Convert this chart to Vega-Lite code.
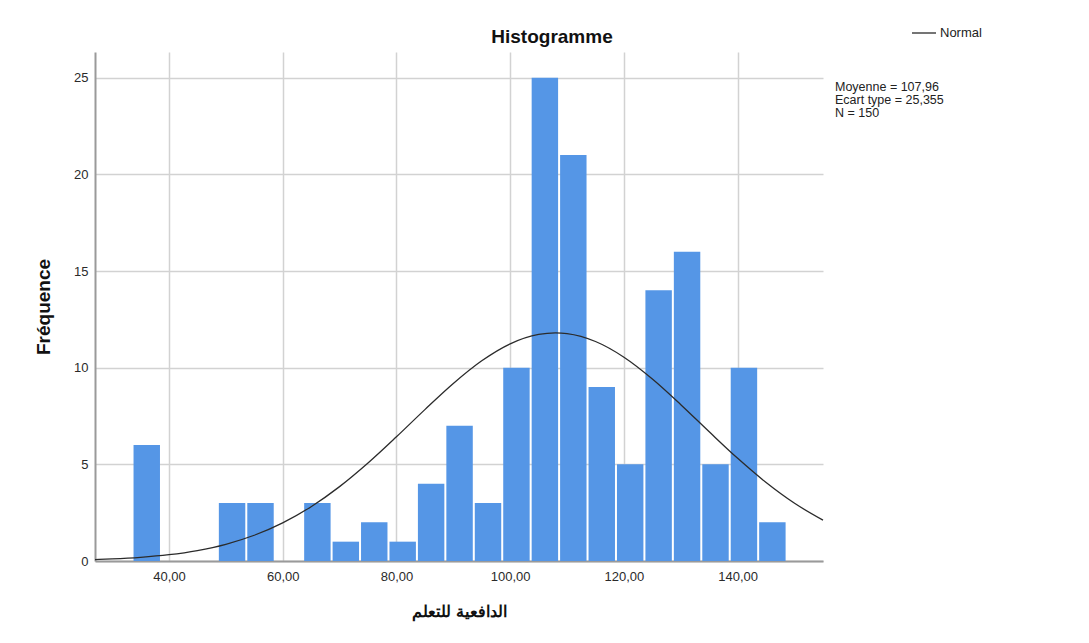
{
  "$schema": "https://vega.github.io/schema/vega-lite/v6.json",
  "width": 728,
  "height": 509,
  "autosize": "none",
  "padding": {"left": 95, "top": 52, "right": 266, "bottom": 82},
  "background": "#ffffff",
  "title": {
    "text": "Histogramme",
    "font": "Liberation Sans",
    "fontSize": 19,
    "fontWeight": "bold",
    "color": "#111111",
    "anchor": "middle",
    "dx": 93,
    "dy": 31,
    "offset": 4
  },
  "datasets": {
    "bins": [
      {"bin_start": 33.6, "bin_end": 38.6, "count": 6},
      {"bin_start": 48.6, "bin_end": 53.6, "count": 3},
      {"bin_start": 53.6, "bin_end": 58.6, "count": 3},
      {"bin_start": 63.6, "bin_end": 68.6, "count": 3},
      {"bin_start": 68.6, "bin_end": 73.6, "count": 1},
      {"bin_start": 73.6, "bin_end": 78.6, "count": 2},
      {"bin_start": 78.6, "bin_end": 83.6, "count": 1},
      {"bin_start": 83.6, "bin_end": 88.6, "count": 4},
      {"bin_start": 88.6, "bin_end": 93.6, "count": 7},
      {"bin_start": 93.6, "bin_end": 98.6, "count": 3},
      {"bin_start": 98.6, "bin_end": 103.6, "count": 10},
      {"bin_start": 103.6, "bin_end": 108.6, "count": 25},
      {"bin_start": 108.6, "bin_end": 113.6, "count": 21},
      {"bin_start": 113.6, "bin_end": 118.6, "count": 9},
      {"bin_start": 118.6, "bin_end": 123.6, "count": 5},
      {"bin_start": 123.6, "bin_end": 128.6, "count": 14},
      {"bin_start": 128.6, "bin_end": 133.6, "count": 16},
      {"bin_start": 133.6, "bin_end": 138.6, "count": 5},
      {"bin_start": 138.6, "bin_end": 143.6, "count": 10},
      {"bin_start": 143.6, "bin_end": 148.6, "count": 2}
    ],
    "normal": [
      {"x": 27, "y": 0.072},
      {"x": 30, "y": 0.105},
      {"x": 35, "y": 0.188},
      {"x": 40, "y": 0.325},
      {"x": 45, "y": 0.541},
      {"x": 50, "y": 0.865},
      {"x": 55, "y": 1.332},
      {"x": 60, "y": 1.973},
      {"x": 65, "y": 2.809},
      {"x": 70, "y": 3.847},
      {"x": 75, "y": 5.069},
      {"x": 80, "y": 6.424},
      {"x": 85, "y": 7.831},
      {"x": 90, "y": 9.182},
      {"x": 95, "y": 10.355},
      {"x": 100, "y": 11.233},
      {"x": 105, "y": 11.720},
      {"x": 107.96, "y": 11.800},
      {"x": 110, "y": 11.762},
      {"x": 115, "y": 11.354},
      {"x": 120, "y": 10.542},
      {"x": 125, "y": 9.414},
      {"x": 130, "y": 8.087},
      {"x": 135, "y": 6.682},
      {"x": 140, "y": 5.310},
      {"x": 145, "y": 4.059},
      {"x": 150, "y": 2.985},
      {"x": 155, "y": 2.111}
    ]
  },
  "layer": [
    {
      "data": {"name": "bins"},
      "mark": {"type": "rect", "color": "#5596e6", "xOffset": 1, "x2Offset": -1},
      "encoding": {
        "x": {
          "field": "bin_start",
          "type": "quantitative",
          "scale": {"domain": [27, 155], "nice": false, "zero": false},
          "axis": {
            "title": "الدافعية للتعلم",
            "values": [40, 60, 80, 100, 120, 140],
            "labelExpr": "replace(format(datum.value, '.2f'), '.', ',')"
          }
        },
        "x2": {"field": "bin_end"},
        "y": {
          "field": "count",
          "type": "quantitative",
          "scale": {"domain": [0, 26.33], "nice": false},
          "axis": {"title": "Fréquence", "values": [0, 5, 10, 15, 20, 25]}
        },
        "y2": {"datum": 0}
      }
    },
    {
      "data": {"name": "normal"},
      "mark": {"type": "line", "interpolate": "monotone", "strokeWidth": 1.3},
      "encoding": {
        "x": {
          "field": "x",
          "type": "quantitative",
          "scale": {"domain": [27, 155], "nice": false, "zero": false},
          "axis": {
            "title": "الدافعية للتعلم",
            "values": [40, 60, 80, 100, 120, 140],
            "labelExpr": "replace(format(datum.value, '.2f'), '.', ',')"
          }
        },
        "y": {
          "field": "y",
          "type": "quantitative",
          "scale": {"domain": [0, 26.33], "nice": false},
          "axis": {"title": "Fréquence", "values": [0, 5, 10, 15, 20, 25]}
        },
        "stroke": {
          "datum": "Normal",
          "scale": {"domain": ["Normal"], "range": ["#2b2b2b"]},
          "legend": {
            "title": null,
            "orient": "none",
            "legendX": 816,
            "legendY": -32,
            "symbolType": "stroke",
            "symbolSize": 576,
            "symbolStrokeWidth": 1.3,
            "labelFont": "Liberation Sans",
            "labelFontSize": 13,
            "labelColor": "#222222",
            "labelOffset": 3
          }
        }
      }
    },
    {
      "data": {"values": [{"mean": 107.96, "sd": 25.355, "n": 150}]},
      "mark": {
        "type": "text",
        "text": ["Moyenne = 107,96", "Ecart type = 25,355", "N = 150"],
        "align": "left",
        "baseline": "alphabetic",
        "font": "Liberation Sans",
        "fontSize": 12.5,
        "lineHeight": 13.3,
        "color": "#222222",
        "dx": 12,
        "dy": 13
      },
      "encoding": {
        "x": {"value": "width"},
        "y": {"datum": 25, "type": "quantitative"}
      }
    }
  ],
  "config": {
    "view": {"stroke": null},
    "axis": {
      "labelFont": "Liberation Sans",
      "labelFontSize": 13,
      "labelColor": "#2a2a2a",
      "titleFont": "Liberation Sans",
      "titleFontWeight": "bold",
      "titleColor": "#111111",
      "domainColor": "#9a9a9a",
      "domainWidth": 2,
      "gridColor": "#d2d2d2",
      "gridWidth": 1.5,
      "ticks": false
    },
    "axisX": {"labelPadding": 9, "titleFontSize": 15.5, "titlePadding": 21},
    "axisY": {"labelPadding": 7, "titleFontSize": 19, "titlePadding": 20}
  }
}
